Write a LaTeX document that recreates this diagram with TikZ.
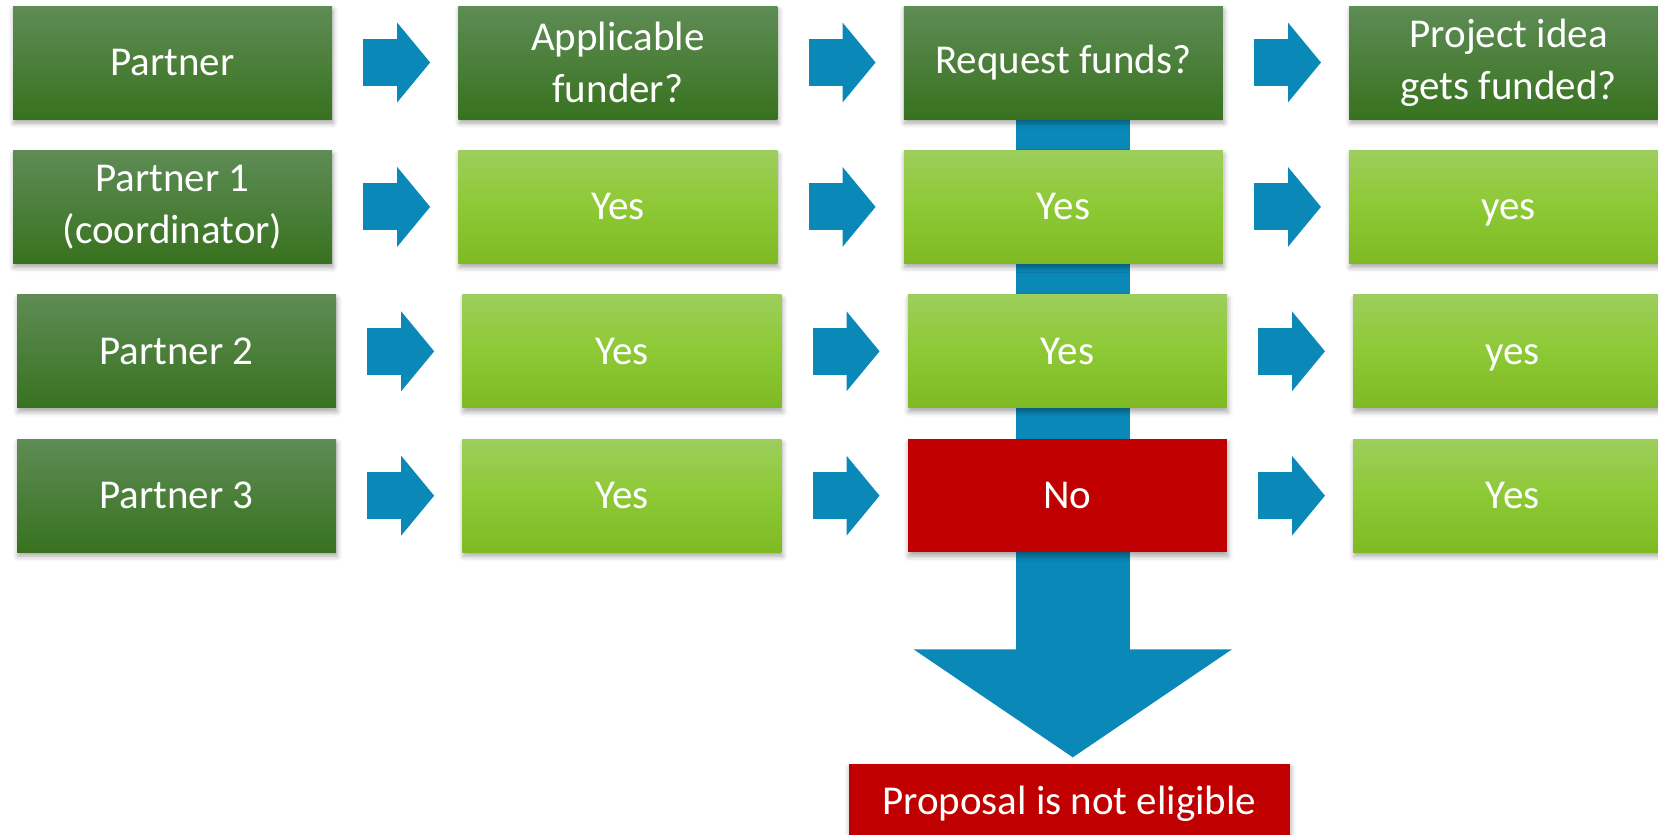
\documentclass[tikz,border=0pt]{standalone}
\usepackage{fontspec}
\setmainfont{Carlito}
\usetikzlibrary{arrows.meta, positioning, calc, backgrounds, shadows.blur}
\definecolor{hdrtop}{HTML}{5E8C55}
\definecolor{hdrbot}{HTML}{38721F}
\definecolor{yestop}{HTML}{9DCE5C}
\definecolor{yesmid}{HTML}{8DC934}
\definecolor{yesbot}{HTML}{7FBA25}
\definecolor{nored}{HTML}{C00000}
\definecolor{flowblue}{HTML}{0A89B8}

\begin{document}
\begin{tikzpicture}[
    node distance=31pt and 126pt,
    box/.style={minimum width=319pt, minimum height=113pt, inner sep=0pt,
                align=center, text=white, font=\fontsize{41}{52}\selectfont,
                blur shadow={shadow xshift=1pt, shadow yshift=-4pt,
                             shadow blur radius=5pt, shadow opacity=35}},
    headbox/.style={box, top color=hdrtop, bottom color=hdrbot},
    yesbox/.style={box, top color=yestop, bottom color=yesbot, middle color=yesmid,
                   text height=30pt, text depth=4pt},
    nobox/.style={box, fill=nored, text height=30pt, text depth=4pt},
    flow/.style={line width=47pt, flowblue, -{Triangle[length=33pt, width=78pt]}}
]
\useasboundingbox (0,0) rectangle (1658pt,-835pt);

% Header row
\node[headbox] (partner) at (172.5pt,-62.5pt) {Partner};
\node[headbox, right=of partner] (funder) {Applicable\\funder?};
\node[headbox, right=of funder] (request) {Request funds?};
\node[headbox, right=of request] (funded) {Project idea\\gets funded?};

% Partners
\node[headbox, below=of partner] (p1) {Partner 1\\(coordinator)};
\node[yesbox, right=of p1] (a1) {Yes};
\node[yesbox, right=of a1] (r1) {Yes};
\node[yesbox, right=of r1] (g1) {yes};

\node[headbox, below=of p1, xshift=4pt] (p2) {Partner 2};
\node[yesbox, right=of p2] (a2) {Yes};
\node[yesbox, right=of a2] (r2) {Yes};
\node[yesbox, right=of r2] (g2) {yes};

\node[headbox, below=of p2] (p3) {Partner 3};
\node[yesbox, right=of p3] (a3) {Yes};
\node[nobox, right=of a3] (r3) {No};
\node[yesbox, right=of r3] (g3) {Yes};

\node[nobox, below=211pt of r3, xshift=2pt, minimum width=441pt,
      minimum height=80pt, text height=, text depth=,
      font=\fontsize{41}{48}\selectfont] (elig)
    {Proposal is not eligible};

\draw[flow] ([xshift=31pt]partner.east) -- ([xshift=-28pt]funder.west);
\draw[flow] ([xshift=31pt]funder.east) -- ([xshift=-28pt]request.west);
\draw[flow] ([xshift=31pt]request.east) -- ([xshift=-28pt]funded.west);
\foreach \i in {1,2,3} {
  \draw[flow] ([xshift=31pt]p\i.east) -- ([xshift=-28pt]a\i.west);
  \draw[flow] ([xshift=31pt]a\i.east) -- ([xshift=-28pt]r\i.west);
  \draw[flow] ([xshift=31pt]r\i.east) -- ([xshift=-28pt]g\i.west);
}

% Rejection
\begin{scope}[on background layer]
\draw[flow, line width=114pt, -{Triangle[length=108pt, width=313pt]}]
  ([xshift=9.5pt]request.south) -- ($(request.south |- elig.north)+(9.5pt,6pt)$);
\end{scope}

\end{tikzpicture}
\end{document}
